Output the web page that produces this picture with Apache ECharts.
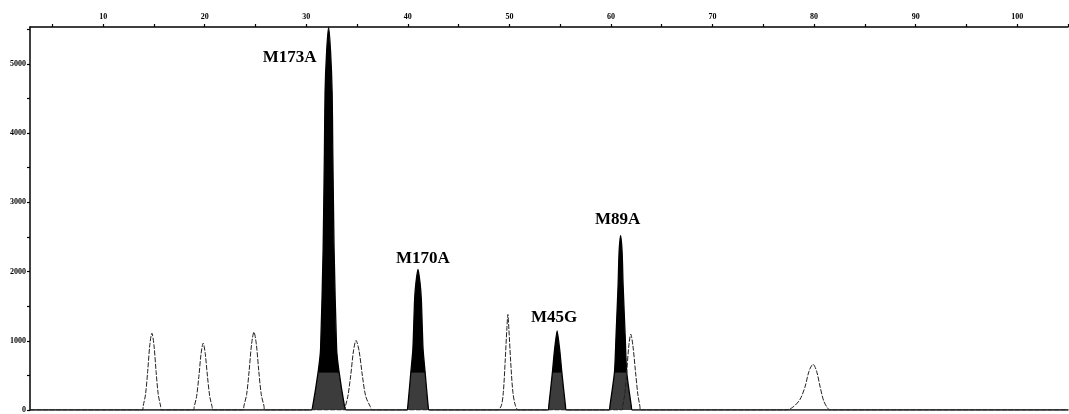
<!DOCTYPE html>
<html>
<head>
<meta charset="utf-8">
<script src="https://cdn.jsdelivr.net/npm/echarts@6/dist/echarts.min.js"></script>
<style>
  html, body { margin: 0; padding: 0; background: #fff; }
  #chart { width: 1069px; height: 414px; }
</style>
</head>
<body>
<div id="chart"></div>
<script>
// x axis: size (bp), y axis: signal (RFU)
var xTicks = [5, 10, 15, 20, 25, 30, 35, 40, 45, 50, 55, 60, 65, 70, 75, 80, 85, 90, 95, 100, 105];
var xLabels = [10, 20, 30, 40, 50, 60, 70, 80, 90, 100];
var yTicks = [0, 500, 1000, 1500, 2000, 2500, 3000, 3500, 4000, 4500, 5000, 5500];
var yLabels = [0, 1000, 2000, 3000, 4000, 5000];

// size standard trace (outlined peaks)
var sizeStd = [
  [2.8, 0],
  [13.9, 0], [13.94, 55], [14.17, 220], [14.385, 555], [14.6, 945], [14.8, 1110], [15.0, 945], [15.215, 555], [15.43, 220], [15.66, 55], [15.7, 0],
  [18.9, 0], [18.97, 48], [19.2, 193], [19.425, 483], [19.65, 820], [19.85, 965], [20.05, 820], [20.275, 483], [20.5, 193], [20.73, 48], [20.8, 0],
  [23.8, 0], [23.86, 56], [24.13, 225], [24.375, 563], [24.62, 956], [24.85, 1125], [25.08, 956], [25.325, 563], [25.57, 225], [25.84, 56], [25.9, 0],
  [33.8, 0], [33.85, 50], [34.1, 201], [34.38, 503], [34.65, 854], [34.9, 1005], [35.2, 854], [35.52, 503], [35.85, 201], [36.3, 50], [36.5, 0],
  [48.8, 0], [49.2, 60], [49.4, 250], [49.58, 690], [49.75, 1170], [49.85, 1380], [49.95, 1170], [50.13, 690], [50.35, 250], [50.6, 60], [50.9, 0],
  [61.1, 0], [61.15, 55], [61.35, 220], [61.55, 548], [61.76, 930], [61.95, 1095], [62.16, 930], [62.42, 548], [62.65, 220], [62.85, 55], [62.9, 0],
  [77.2, 0], [77.9, 40], [78.6, 150], [79.1, 330], [79.5, 560], [79.9, 660], [80.25, 560], [80.6, 330], [80.95, 130], [81.3, 35], [81.6, 0],
  [105, 0]
];

// sample trace (filled peaks)
var sample = [
  [2.8, 0],
  [30.5, 0], [30.64, 60], [31.17, 550], [31.41, 880], [31.66, 2320], [31.79, 3760], [31.85, 4580], [32.0, 5160], [32.2, 5530],
  [32.4, 5160], [32.55, 4580], [32.61, 3760], [32.74, 2320], [32.99, 880], [33.23, 550], [33.76, 60], [33.9, 0],
  [39.9, 0], [40.0, 60], [40.3, 550], [40.5, 880], [40.67, 1600], [40.8, 1840], [41.0, 2030],
  [41.2, 1840], [41.33, 1600], [41.5, 880], [41.7, 550], [42.0, 60], [42.1, 0],
  [53.8, 0], [53.88, 60], [54.24, 550], [54.42, 835], [54.7, 1142],
  [54.98, 835], [55.16, 550], [55.52, 60], [55.6, 0],
  [59.8, 0], [59.9, 60], [60.35, 550], [60.5, 1070], [60.7, 1790], [60.8, 2280], [60.95, 2520],
  [61.1, 2280], [61.2, 1790], [61.4, 1070], [61.55, 550], [62.0, 60], [62.1, 0],
  [105, 0]
];

var peakNames = ['M173A', 'M170A', 'M45G', 'M89A'];
var peakTops = [[32.2, 5530], [41.0, 2030], [54.7, 1142], [60.95, 2520]];
var labelOffsets = [[-39, 30], [5, -11], [-3, -13], [-3, -16]];

var chart = echarts.init(document.getElementById('chart'));

var tickFont = {
  fontFamily: 'Liberation Serif',
  fontWeight: 'bold',
  fontSize: 8,
  color: '#000'
};

var option = {
  backgroundColor: '#fff',
  animation: false,
  grid: { left: 30, right: 1, top: 27, bottom: 3 },
  xAxis: {
    type: 'value',
    position: 'top',
    min: 2.8,
    max: 105,
    axisLine: { onZero: false, lineStyle: { color: '#000', width: 1.5 } },
    axisTick: { customValues: xTicks, length: 3, lineStyle: { color: '#000', width: 1.2 } },
    axisLabel: Object.assign({ customValues: xLabels, margin: 6, formatter: function (v) { return String(v); } }, tickFont),
    splitLine: { show: false }
  },
  yAxis: {
    type: 'value',
    min: 0,
    max: 5533,
    axisLine: { show: true, lineStyle: { color: '#000', width: 1.5 } },
    axisTick: { show: true, customValues: yTicks, length: 3, lineStyle: { color: '#000', width: 1.2 } },
    axisLabel: Object.assign({ customValues: yLabels, margin: 4, formatter: function (v) { return String(v); } }, tickFont),
    splitLine: { show: false }
  },
  series: [
    {
      name: 'sample',
      type: 'line',
      data: sample,
      symbol: 'none',
      smooth: 0.2,
      z: 2,
      lineStyle: { color: '#000', width: 1.3 },
      areaStyle: {
        opacity: 1,
        color: {
          type: 'linear', x: 0, y: 0, x2: 0, y2: 414, global: true,
          colorStops: [
            { offset: 0, color: '#000' },
            { offset: 0.899, color: '#000' },
            { offset: 0.901, color: '#3c3c3c' },
            { offset: 1, color: '#3c3c3c' }
          ]
        }
      }
    },
    {
      name: 'size standard',
      type: 'line',
      data: sizeStd,
      symbol: 'none',
      smooth: 0.3,
      z: 3,
      lineStyle: { color: '#222', width: 1, type: [5, 1.5] }
    },
    {
      name: 'labels',
      type: 'scatter',
      symbolSize: 0,
      z: 5,
      data: peakTops.map(function (p, i) {
        return {
          value: p,
          label: {
            show: true,
            position: 'inside',
            offset: labelOffsets[i],
            formatter: peakNames[i],
            fontFamily: 'Liberation Serif',
            fontWeight: 'bold',
            fontSize: 17,
            color: '#000',
            textBorderWidth: 0,
            opacity: 1
          }
        };
      })
    }
  ]
};
chart.setOption(option);
</script>
</body>
</html>
